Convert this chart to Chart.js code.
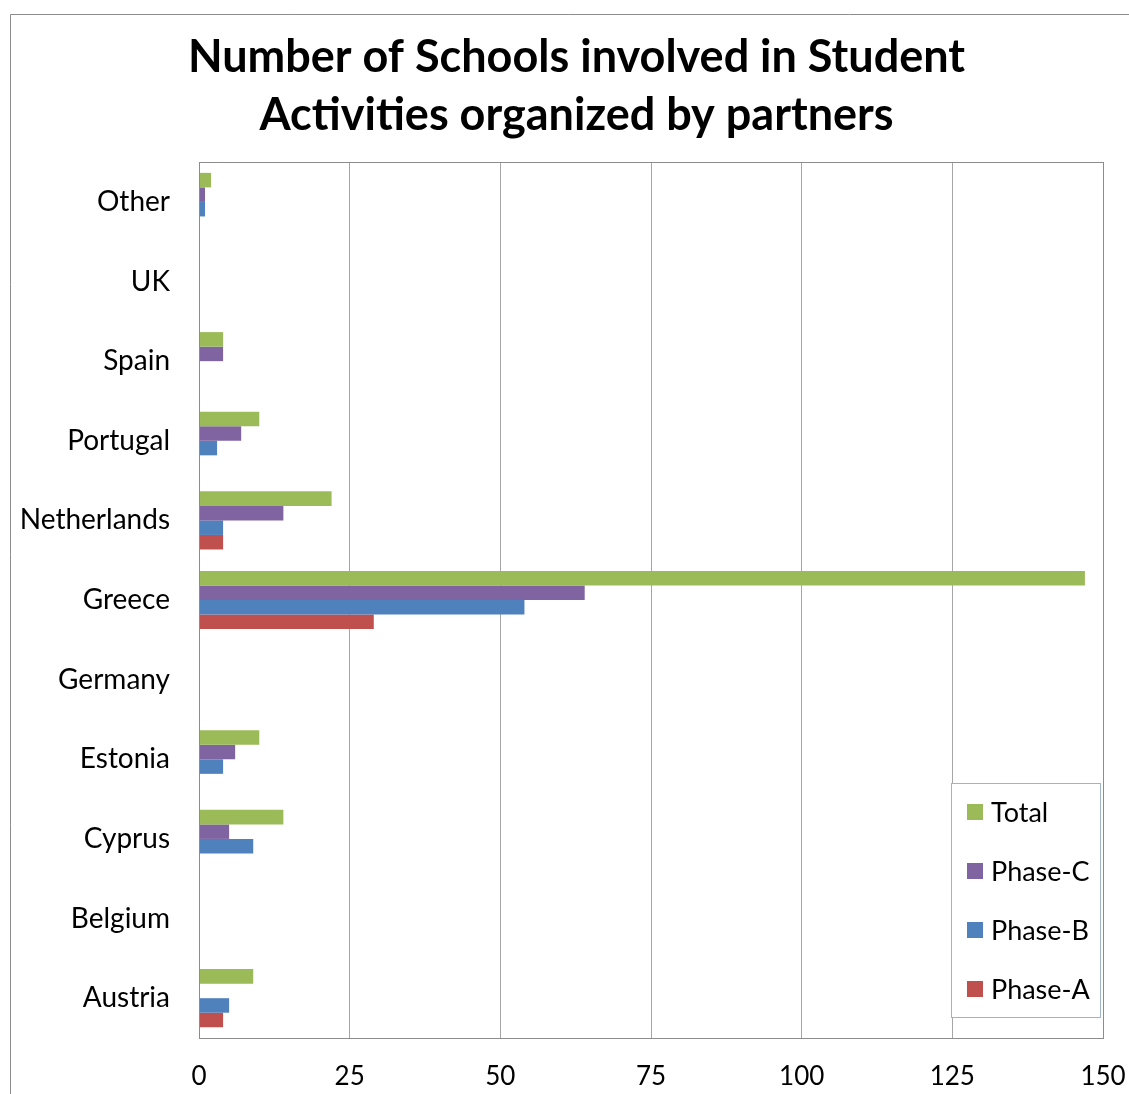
<!DOCTYPE html>
<html>
<head>
<meta charset="utf-8">
<title>Number of Schools involved in Student Activities organized by partners</title>
<script src="https://cdn.jsdelivr.net/npm/chart.js@4.4.1/dist/chart.umd.min.js"></script>
<style>
    body { margin: 0; background: #fff; }
    #wrap { width: 1129px; height: 1094px; }
</style>
</head>
<body>
<div id="wrap"><canvas id="myChart" width="1129" height="1094"></canvas></div>
<script>
const countries = ['Austria', 'Belgium', 'Cyprus', 'Estonia', 'Germany', 'Greece',
    'Netherlands', 'Portugal', 'Spain', 'UK', 'Other'];

const phaseA = [4, 0, 0, 0, 0, 29, 4, 0, 0, 0, 0];
const phaseB = [5, 0, 9, 4, 0, 54, 4, 3, 0, 0, 1];
const phaseC = [0, 0, 5, 6, 0, 64, 14, 7, 4, 0, 1];
const total = [9, 0, 14, 10, 0, 147, 22, 10, 4, 0, 2];

const xTicks = [0, 25, 50, 75, 100, 125, 150];

const fontFamily = 'Lato, "Noto Sans", sans-serif';
const gridColor = '#a6a6a6';

// frame round the whole chart plus the box round the plot area
const framePlugin = {
    id: 'frame',
    beforeDraw: (chart) => {
        const ctx = chart.ctx;
        ctx.save();
        ctx.strokeStyle = '#8c8c8c';
        ctx.lineWidth = 1;
        ctx.beginPath();
        ctx.moveTo(10.5, chart.height);
        ctx.lineTo(10.5, 14.5);
        ctx.lineTo(chart.width, 14.5);
        ctx.stroke();
        ctx.restore();
    },
    afterDatasetsDraw: (chart) => {
        const { left, top, right, bottom } = chart.chartArea;
        const ctx = chart.ctx;
        ctx.save();
        ctx.strokeStyle = '#8c8c8c';
        ctx.lineWidth = 1;
        ctx.strokeRect(Math.round(left) + 0.5, Math.round(top) + 0.5,
            Math.round(right - left), Math.round(bottom - top));
        ctx.restore();
    }
};

// legend drawn inside the lower right corner of the plot
const boxLegend = {
    id: 'boxLegend',
    afterDraw: (chart) => {
        const { right, bottom } = chart.chartArea;
        const ctx = chart.ctx;
        const boxW = 149;
        const boxH = 234;
        const x0 = Math.round(right - 3 - boxW);
        const y0 = Math.round(bottom - 21 - boxH);

        ctx.save();
        ctx.fillStyle = '#fff';
        ctx.fillRect(x0, y0, boxW, boxH);
        ctx.strokeStyle = '#9fb4cc';
        ctx.lineWidth = 1;
        ctx.strokeRect(x0 + 0.5, y0 + 0.5, boxW, boxH);

        ctx.font = `27px ${fontFamily}`;
        ctx.textBaseline = 'middle';
        chart.data.datasets.forEach((ds, i) => {
            const cy = y0 + 29 + i * 59;
            ctx.fillStyle = ds.backgroundColor;
            ctx.fillRect(x0 + 16, cy - 8, 16, 16);
            ctx.fillStyle = '#000';
            ctx.fillText(ds.label, x0 + 40, cy + 1);
        });
        ctx.restore();
    }
};

const data = {
    labels: countries,
    datasets: [
        { label: 'Total', data: total, backgroundColor: '#9bbb59' },
        { label: 'Phase-C', data: phaseC, backgroundColor: '#8064a2' },
        { label: 'Phase-B', data: phaseB, backgroundColor: '#4f81bd' },
        { label: 'Phase-A', data: phaseA, backgroundColor: '#c0504d' }
    ]
};

const config = {
    type: 'bar',
    data: data,
    options: {
        indexAxis: 'y',
        responsive: false,
        animation: false,
        layout: { padding: { left: 14, right: -10, top: 0, bottom: 0 } },
        datasets: {
            bar: { barPercentage: 1, categoryPercentage: 0.73, borderWidth: 0 }
        },
        scales: {
            x: {
                min: 0,
                max: 150,
                afterBuildTicks: (scale) => {
                    scale.ticks = xTicks.map((v) => ({ value: v }));
                },
                afterFit: (scale) => {
                    scale.height = 56;
                    // keep only room for half of the "150" label on the right
                    scale.paddingRight = 26;
                    scale.paddingLeft = 0;
                },
                grid: { color: gridColor, drawTicks: false },
                border: { color: '#8c8c8c' },
                ticks: {
                    padding: 23,
                    color: '#000',
                    font: { family: fontFamily, size: 26 },
                    maxRotation: 0
                }
            },
            y: {
                reverse: true,
                afterFit: (scale) => { scale.width = 185; },
                grid: { display: false, drawTicks: false },
                border: { color: '#8c8c8c' },
                ticks: {
                    padding: 29,
                    color: '#000',
                    font: { family: fontFamily, size: 28 }
                }
            }
        },
        plugins: {
            legend: { display: false },
            tooltip: { enabled: false },
            title: {
                display: true,
                text: ['Number of Schools involved in Student', 'Activities organized by partners'],
                color: '#000',
                font: { family: fontFamily, size: 45, weight: 'bold', lineHeight: 1.29 },
                padding: { top: 28, bottom: 18 }
            }
        }
    },
    plugins: [framePlugin, boxLegend]
};

new Chart(document.getElementById('myChart'), config);
</script>
</body>
</html>
